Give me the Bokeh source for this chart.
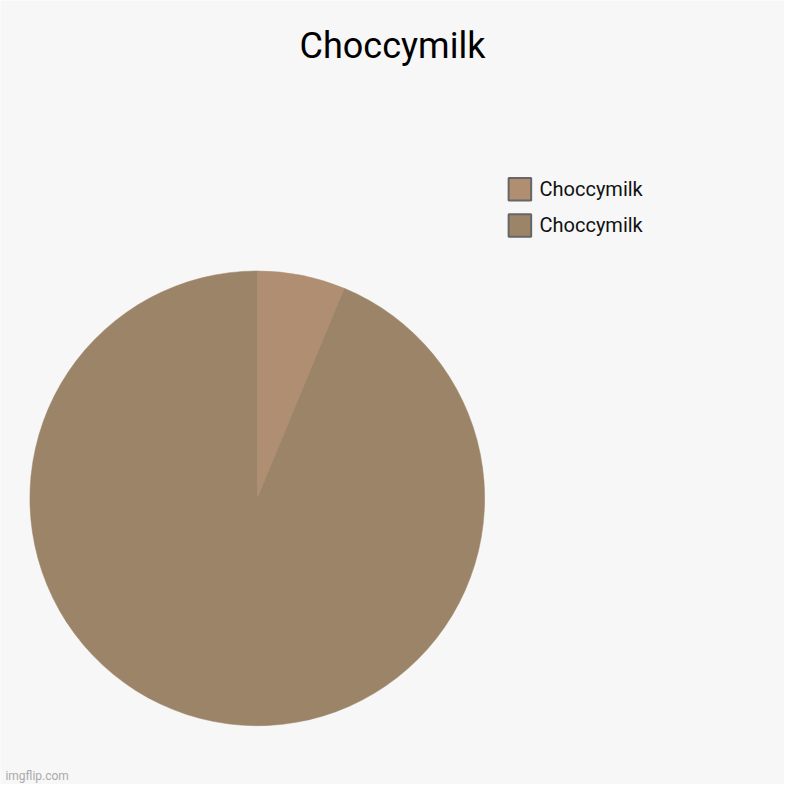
import numpy as np
from bokeh.plotting import figure
from bokeh.models import Range1d, ColumnDataSource
from bokeh.core.properties import value
from bokeh.embed import file_html
from bokeh.resources import INLINE

# chart data
title_text = "Choccymilk"
labels = ["Choccymilk", "Choccymilk"]
values = [1, 15]
colors = ["#b08e72", "#9c8469"]

# data space == pixels of the 800x800 reference (y flipped), shown at 784px
W = 784
p = figure(width=W, height=W, output_backend="svg", toolbar_location=None,
           x_range=Range1d(0, 800), y_range=Range1d(0, 800),
           min_border=0, background_fill_color="#f7f7f7",
           border_fill_color="#f7f7f7")
p.axis.visible = False
p.grid.visible = False
p.outline_line_color = None

def sy(y):
    return 800 - y

# pie wedges, clockwise from 12 o'clock
vals = np.array(values, dtype=float)
frac = vals / vals.sum()
ends = np.cumsum(frac)
starts = ends - frac
src = ColumnDataSource(dict(
    start=np.pi / 2 - starts * 2 * np.pi,
    end=np.pi / 2 - ends * 2 * np.pi,
    color=colors,
    label=labels,
))
p.wedge(x=262, y=sy(508), radius=232, start_angle="start", end_angle="end",
        direction="clock", fill_color="color", line_color="color",
        line_width=0.5, source=src)

# legend drawn by hand
leg_y = [sy(192.5 + 37 * i) for i in range(len(labels))]
leg = ColumnDataSource(dict(y=leg_y, color=colors, label=labels))
p.rect(x=530, y="y", width=23, height=23, fill_color="color",
       line_color="#666666", line_width=2, source=leg)
p.text(x=550, y="y", text="label", source=leg, text_font=value("Roboto"),
       text_font_size="20px", text_baseline="middle", text_color="#111111")

# title
p.text(x=[400], y=[sy(46)], text=[title_text], text_font=value("Roboto"),
       text_font_size="36px", text_align="center", text_baseline="middle",
       text_color="#000000")

# watermark
p.text(x=[5], y=[sy(791)], text=["imgflip.com"], text_font=value("Roboto"),
       text_font_size="12px", text_baseline="middle", text_color="#aaaaaa")

open("out.html", "w").write(file_html(p, INLINE))
